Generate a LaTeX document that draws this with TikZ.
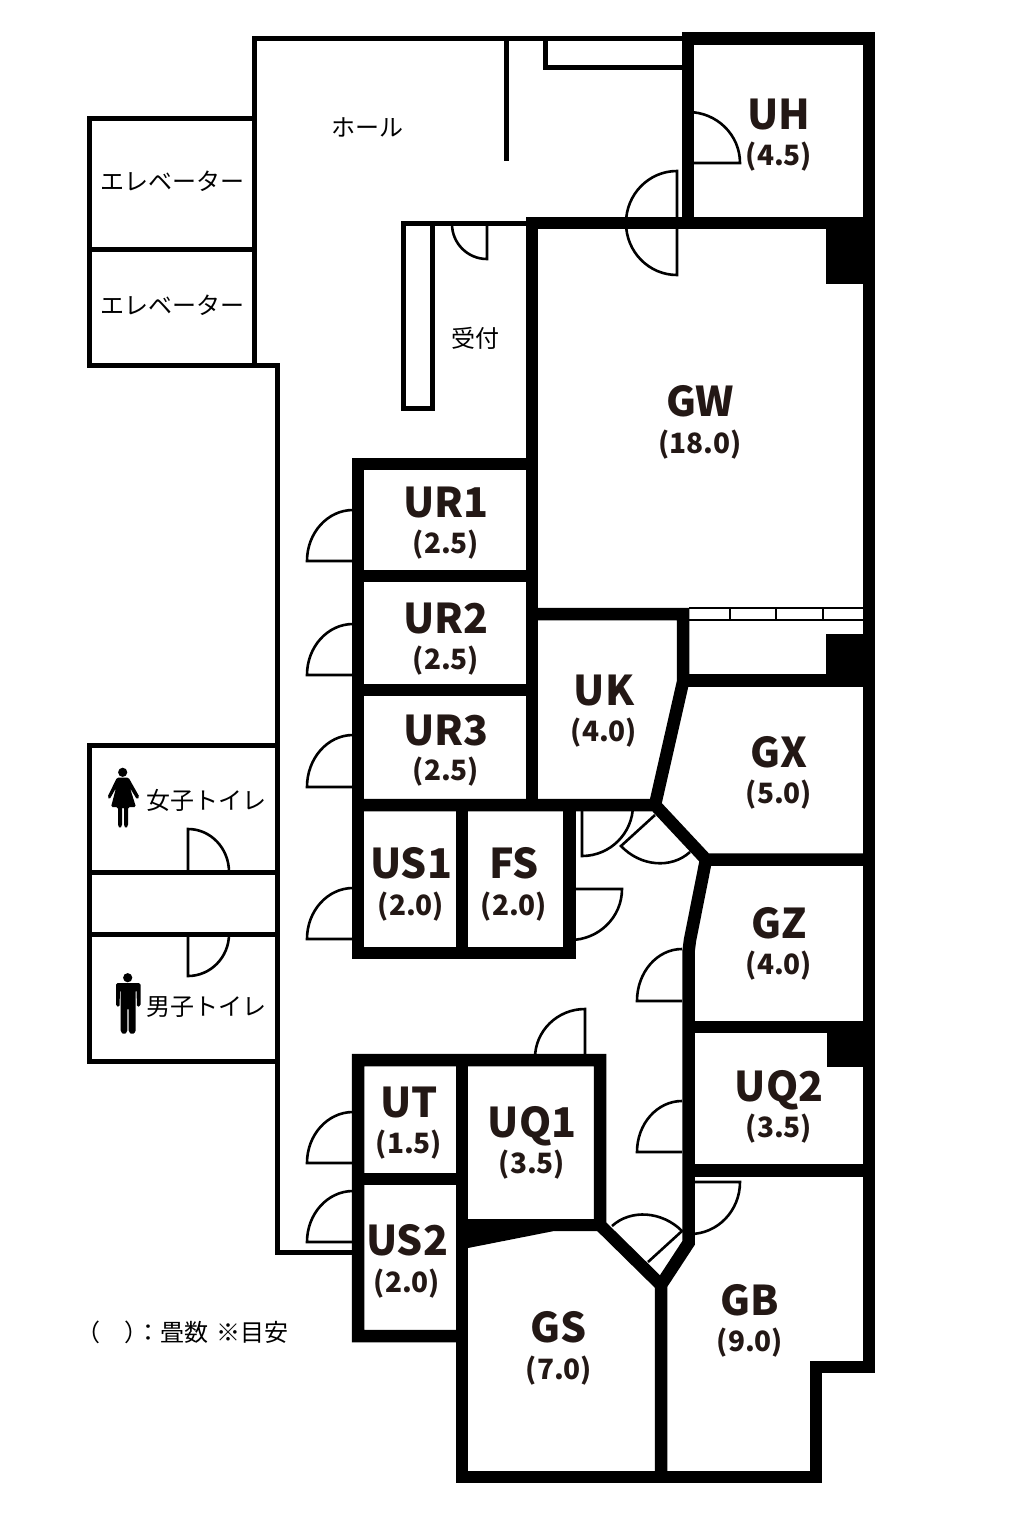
\documentclass[tikz,border=0pt]{standalone}
\usepackage{fontspec}
\setmainfont{Noto Sans CJK JP}
\usetikzlibrary{calc}
\definecolor{inkcol}{HTML}{231815}
\tikzset{
    wall/.style={line width=12.5},
    thinwall/.style={line width=5},
    doorline/.style={line width=2.6},
    roomname/.style={inner sep=0,text=inkcol,font=\fontsize{41}{41}\selectfont\bfseries,text height=30pt,text depth=0pt},
    roomsize/.style={inner sep=0,text=inkcol,font=\fontsize{28}{28}\selectfont\bfseries,text height=19pt,text depth=0pt},
    plantext/.style={inner sep=0,font=\fontsize{24}{24}\selectfont}
}
% hinge, tip of the leaf, end of the swing
\newcommand{\door}[3]{\draw[doorline] (#1) -- (#2) .. controls ($(#2)+0.5523*(#3)-0.5523*(#1)$) and ($(#3)+0.5523*(#2)-0.5523*(#1)$) .. (#3);}
\begin{document}
\begin{tikzpicture}[x=1pt,y=-1pt]
    \useasboundingbox (0,0) rectangle (1017,1535);

    %Doors
    \door{688,163}{740,163}{688,112}
    \door{677,223}{677,171}{626,223}
    \door{677,223}{677,275}{626,223}
    \door{487,224}{487,259}{452,224}
    \door{353,561}{307,561}{353,510}
    \door{353,675}{307,675}{353,624}
    \door{353,787}{307,787}{353,735}
    \door{353,939}{307,939}{353,888}
    \door{353,1163}{307,1163}{353,1112}
    \door{353,1242}{307,1242}{353,1191}
    \door{582,805}{582,856}{633,805}
    \door{655,815}{621,846}{690,852}
    \door{570,889}{622,889}{570,940}
    \door{682,1001}{637,1001}{682,949}
    \door{682,1152}{637,1152}{682,1101}
    \door{585,1058}{585,1009}{535,1058}
    \door{648,1262}{682,1231}{612,1226}
    \door{690,1182}{740,1182}{690,1234}
    \door{188,872}{188,829}{229,872}
    \door{188,934}{188,976}{229,934}

    %Thin walls
    \draw[thinwall] (688,38.5) -- (254,38.5) -- (254,365) -- (277,365) -- (277,1252) -- (358,1252);
    \draw[thinwall] (254,118) -- (89,118) -- (89,365) -- (254,365);
    \draw[thinwall] (89,249) -- (254,249);
    \draw[thinwall] (277,745) -- (89,745) -- (89,1061) -- (277,1061);
    \draw[thinwall] (89,872) -- (277,872);
    \draw[thinwall] (89,934) -- (277,934);
    \draw[thinwall] (506,38.5) -- (506,161);
    \draw[thinwall] (545.5,38.5) -- (545.5,67) -- (684,67);
    \draw[thinwall] (532,223.5) -- (403.5,223.5) -- (403.5,408) -- (432.5,408) -- (432.5,223.5);

    %Window
    \draw[line width=1.5] (689,608) -- (863,608);
    \draw[line width=1.5] (689,620) -- (863,620);
    \foreach \xtick in {730,776,823}
        \draw[line width=1.5] (\xtick,608) -- (\xtick,620);

    %Thick walls
    \draw[wall] (688,223) -- (688,38.5) -- (869,38.5) -- (869,1367) -- (816,1367) -- (816,1477) -- (462,1477) -- (462,1060);
    \draw[wall] (869,223) -- (532,223) -- (532,805);
    \draw[wall] (532,464) -- (358,464) -- (358,953) -- (569.5,953) -- (569.5,805);
    \draw[wall] (358,576) -- (532,576);
    \draw[wall] (358,690) -- (532,690);
    \draw[wall] (462,805) -- (462,953);
    \draw[wall] (532,614) -- (683,614) -- (683,682) -- (655,805);
    \draw[wall] (683,680.5) -- (869,680.5);
    \draw[wall] (358,805) -- (655,805) -- (706,859.5) -- (869,859.5);
    \draw[wall] (706,859.5) -- (690,940) -- (688.5,952) -- (688.5,1243) -- (661,1285) -- (661,1477);
    \draw[wall] (688.5,1027) -- (869,1027);
    \draw[wall] (688.5,1170.5) -- (869,1170.5);
    \draw[wall] (661,1285) -- (600,1225) -- (600,1060) -- (358,1060) -- (358,1336) -- (462,1336);
    \draw[wall] (358,1179) -- (462,1179);

    %Black blocks
    \fill (826,229) rectangle (869,284);
    \fill (826,634) rectangle (869,680);
    \fill (827,1027) rectangle (869,1067);
    \fill (462,1219) -- (600,1219) -- (600,1231) -- (554,1231) -- (468,1248) -- (462,1248) -- cycle;

    %Woman
    \fill (122.7,772.3) circle (4.6);
    \fill[rounded corners=1.5] (117,777.5) -- (128.5,777.5) -- (139.5,797) -- (137,799.5) -- (130,788) -- (136,807) -- (128,807) -- (128,826) -- (126,828.5) -- (124,826) -- (124,807) -- (122,807) -- (122,826) -- (120,828.5) -- (118,826) -- (118,807) -- (111,807) -- (116,788) -- (109.5,799.5) -- (107.5,797) -- cycle;

    %Man
    \fill (127.7,977.7) circle (4.6);
    \fill[rounded corners=1.5] (116,983) -- (140.5,983) -- (140.5,1006) -- (137,1007) -- (136.5,990) -- (135.7,990) -- (135.7,1032) -- (132,1034.5) -- (128.7,1032) -- (128.7,1008) -- (127.3,1008) -- (127.3,1032) -- (124,1034.5) -- (120.7,1032) -- (120.7,990) -- (120,990) -- (119.5,1007) -- (116,1006) -- cycle;

    %Rooms
    \node[roomname] (UH) at (779,114) {UH};
    \node[roomsize] (UHsize) at (779,156) {(4.5)};
    \node[roomname] (GW) at (700,401) {GW};
    \node[roomsize] (GWsize) at (700,444) {(18.0)};
    \node[roomname] (URone) at (446,502) {UR1};
    \node[roomsize] (URonesize) at (446,544) {(2.5)};
    \node[roomname] (URtwo) at (446,618) {UR2};
    \node[roomsize] (URtwosize) at (446,660) {(2.5)};
    \node[roomname] (URthree) at (446,730) {UR3};
    \node[roomsize] (URthreesize) at (446,771) {(2.5)};
    \node[roomname] (UK) at (604,690) {UK};
    \node[roomsize] (UKsize) at (604,732) {(4.0)};
    \node[roomname] (GX) at (779,752) {GX};
    \node[roomsize] (GXsize) at (779,794) {(5.0)};
    \node[roomname] (USone) at (411,863) {US1};
    \node[roomsize] (USonesize) at (411,906) {(2.0)};
    \node[roomname] (FS) at (514,863) {FS};
    \node[roomsize] (FSsize) at (514,906) {(2.0)};
    \node[roomname] (GZ) at (779,923) {GZ};
    \node[roomsize] (GZsize) at (779,965) {(4.0)};
    \node[roomname] (UQtwo) at (779,1086) {UQ2};
    \node[roomsize] (UQtwosize) at (779,1128) {(3.5)};
    \node[roomname] (UT) at (409,1102) {UT};
    \node[roomsize] (UTsize) at (409,1144) {(1.5)};
    \node[roomname] (UQone) at (532,1122) {UQ1};
    \node[roomsize] (UQonesize) at (532,1164) {(3.5)};
    \node[roomname] (UStwo) at (407,1240) {US2};
    \node[roomsize] (UStwosize) at (407,1283) {(2.0)};
    \node[roomname] (GS) at (559,1327) {GS};
    \node[roomsize] (GSsize) at (559,1370) {(7.0)};
    \node[roomname] (GB) at (750,1300) {GB};
    \node[roomsize] (GBsize) at (750,1342) {(9.0)};

    %Other labels
    \node[plantext] (hall) at (367,127) {ホール};
    \node[plantext] (eleone) at (172,181) {エレベーター};
    \node[plantext] (eletwo) at (172,305) {エレベーター};
    \node[plantext] (desk) at (475,338) {受付};
    \node[plantext] (ladies) at (206,800) {女子トイレ};
    \node[plantext] (mens) at (206,1007) {男子トイレ};
    \node[plantext,anchor=west] (legend) at (76,1332) {（\hspace{1em}）\hspace{-0.5em}：畳数\hspace{0.35em}※目安};
\end{tikzpicture}
\end{document}
